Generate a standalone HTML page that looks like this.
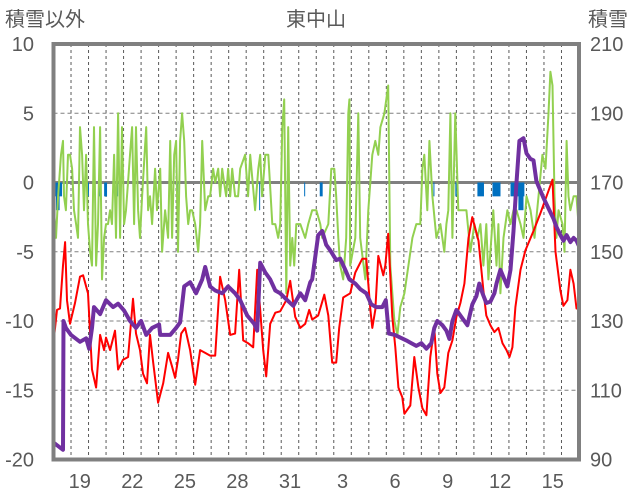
<!DOCTYPE html>
<html><head><meta charset="utf-8"><style>
html,body{margin:0;padding:0;background:#fff;}
svg{display:block;font-family:"Liberation Sans","Noto Sans CJK JP",sans-serif;}
</style></head><body>
<svg id="chart" width="636" height="501" viewBox="0 0 636 501" xmlns="http://www.w3.org/2000/svg">
<rect x="0" y="0" width="636" height="501" fill="#fff"/>
<text x="316" y="26" text-anchor="middle" font-size="20" fill="#595959">東中山</text>
<text x="5" y="26" font-size="20" fill="#595959">積雪以外</text>
<text x="588" y="26" font-size="20" fill="#595959">積雪</text>
<g id="grid"></g><g id="bars"></g><g id="series"></g><g id="axes"></g>
</svg>
<script>
const xLabels=["19","22","25","28","31","3","6","9","12","15"];
const xLabelDays=[1,4,7,10,13,16,19,22,25,28];
const leftTicks=[10,5,0,-5,-10,-15,-20];
const rightTicks=[210,190,170,150,130,110,90];
const greenDays=[0.03,0.14,0.26,0.43,0.54,0.6,0.71,0.83,0.94,1.06,1.17,1.29,1.4,1.51,1.63,1.74,1.86,1.97,2.09,2.2,2.31,2.43,2.54,2.66,2.77,2.89,3.0,3.11,3.23,3.34,3.46,3.57,3.69,3.8,3.91,4.03,4.14,4.37,4.49,4.6,4.71,4.83,4.94,5.06,5.29,5.4,5.51,5.63,5.8,5.91,6.09,6.2,6.37,6.54,6.66,6.77,6.89,7.0,7.11,7.23,7.34,7.46,7.57,7.69,7.8,7.91,8.09,8.26,8.37,8.49,8.66,8.83,8.94,9.11,9.23,9.4,9.51,9.63,9.74,9.86,9.97,10.09,10.2,10.37,10.54,10.66,10.94,11.11,11.23,11.51,11.69,11.8,11.91,12.09,12.26,12.49,12.66,12.83,12.94,13.06,13.17,13.29,13.4,13.51,13.63,13.74,13.86,14.09,14.37,14.54,14.77,15.0,15.23,15.34,15.69,15.86,16.03,16.14,16.26,16.37,16.54,16.71,16.83,16.89,16.94,17.23,17.4,17.51,17.8,17.97,18.2,18.37,18.54,18.66,18.89,19.11,19.23,19.46,19.63,19.8,20.03,20.26,20.49,20.71,20.94,21.06,21.17,21.34,21.46,21.63,21.86,22.09,22.31,22.43,22.54,22.66,22.77,22.94,23.11,23.34,23.57,23.8,24.03,24.2,24.37,24.54,24.71,24.83,24.94,25.11,25.29,25.4,25.51,25.69,25.91,26.09,26.26,26.43,26.66,26.83,27.0,27.23,27.46,27.69,27.91,28.09,28.26,28.37,28.49,28.6,28.71,28.83,29.06,29.17,29.29,29.4,29.51,29.69,29.86,29.97];
const greenVals=[-2,-4,-1,2,3,-1,-2,2,2,1,-2,-3,-4,4,2,-2,2,-3,-5,-6,4,-6,-3,4,-7,-4,-3,-3,-2,-3,2,-4,5,-4,4,-3,-2,2,4,-3,4,-2,-4,-1,4,-2,-1,-3,1,-2,1,-5,-2,-4,3,-4,2,3,-5,3,5,3,-1,-3,-2,-2,-3,-5,-3,3,-2,-1,-1,1,0,1,-1,1,0,-1,1,-1,1,-1,-1,1,2,-1,2,-2,1,2,-1,2,2,-3,-3,-4,-3,4,6,-8,4,-6,-4,-6,-3,-3,-4,-3,-2,-2,-3,-4,-3,1,1,-1,-4,-6,-7,-4,5,6,-6,-4,5,-4,-7,-2,2,3,2,4,5,7,-6,-10,-11,-9,-8,-6,-4,-3,-3,1,2,-2,3,-1,-4,-3,-5,-3,-2,5,-4,5,-2,-2,-2,-5,-3,-4,-3,-6,-3,-7,-5,-2,-6,-3,-8,-4,-2,-3,-2,-2,-3,-4,-1,-2,-4,-1,2,1,5,8,7,-1,-4,-2,-3,-5,3,-1,-2,-1,-1,-3];
const redDays=[0.03,0.2,0.37,0.54,0.66,0.77,0.94,1.23,1.51,1.69,1.97,2.2,2.43,2.66,2.89,3.0,3.23,3.51,3.69,3.97,4.26,4.54,4.71,4.94,5.11,5.34,5.51,5.69,5.97,6.26,6.54,6.77,6.94,7.11,7.29,7.51,7.8,8.09,8.37,8.66,8.94,9.23,9.51,9.8,10.09,10.37,10.6,10.83,11.11,11.4,11.63,11.97,12.14,12.37,12.66,12.94,13.29,13.51,13.8,14.09,14.37,14.6,14.77,15.11,15.46,15.69,15.91,16.14,16.31,16.54,16.94,17.23,17.63,17.86,18.09,18.2,18.37,18.54,18.83,18.94,19.11,19.34,19.51,19.69,19.91,20.03,20.37,20.6,20.83,21.06,21.29,21.51,21.74,21.91,22.09,22.31,22.54,22.77,23.0,23.23,23.46,23.69,23.91,24.26,24.54,24.71,24.94,25.17,25.4,25.63,25.86,26.03,26.2,26.37,26.66,26.94,27.4,27.8,28.26,28.49,28.66,28.94,29.11,29.34,29.51,29.69,29.86,30.0];
const redVals=[-11.2,-9.2,-9.1,-6,-4.3,-8.5,-10.2,-8.7,-6.8,-6.7,-8,-13.5,-14.8,-11,-12.1,-11.2,-12.1,-10.7,-13.5,-12.8,-12.6,-8.4,-10.9,-12.1,-13.8,-14.5,-11,-13,-15.9,-14.5,-12.3,-13.3,-14.1,-12.8,-10.9,-10.5,-12.1,-14.6,-12.1,-12.3,-12.5,-12.5,-6.8,-8.5,-11,-10.9,-6.3,-11.4,-11.6,-11.9,-6.3,-12.1,-14,-10.2,-9.4,-9.3,-8.5,-7.1,-9.7,-10.5,-10.2,-9.2,-9.9,-9.6,-8.1,-9.6,-13,-13,-10.5,-8.3,-8,-6.5,-5.5,-5.5,-9.2,-10.5,-9.2,-5.3,-6.7,-6,-3.7,-9.7,-11.9,-14.8,-15.5,-16.7,-16.1,-12.6,-14.8,-16.3,-16.8,-12.6,-10.5,-13.8,-15.2,-14.8,-12.3,-11.4,-9.7,-8.7,-7.3,-4,-2.5,-4.2,-7.8,-9.6,-10.3,-10.8,-10.5,-11.6,-12.1,-12.6,-11.9,-9,-6.3,-4.9,-3.5,-2.2,-0.6,0.2,-5,-7.8,-8.9,-8.5,-6.3,-7.3,-9.1,-9.1];
const snowDays=[0.03,0.54,0.57,0.71,1.0,1.51,1.86,2.03,2.2,2.31,2.66,3.0,3.4,3.69,4.03,4.37,4.71,5.0,5.29,5.63,6.03,6.09,6.66,7.0,7.23,7.46,7.8,8.14,8.49,8.66,8.94,9.23,9.63,9.97,10.37,10.66,11.06,11.46,11.63,11.8,12.09,12.37,12.66,12.94,13.34,13.69,14.09,14.37,14.66,14.77,15.11,15.34,15.57,15.8,16.14,16.37,16.66,16.89,17.23,17.51,17.86,18.14,18.43,18.77,18.97,19.14,19.49,19.8,20.14,20.43,20.71,21.0,21.29,21.57,21.74,21.91,22.2,22.43,22.6,22.77,23.0,23.34,23.63,23.91,24.14,24.31,24.49,24.71,24.94,25.17,25.29,25.51,25.74,25.91,26.09,26.26,26.43,26.6,26.83,27.0,27.23,27.4,27.57,27.8,27.97,28.31,28.54,28.71,28.94,29.11,29.29,29.51,29.69,29.86,30.0];
const snowVals=[94.8,92.8,130,128,126,124,125,122,128,134,132,136,134,135,133,130,128,130,126,128,129,126,126,128,129.6,140,141.2,138,142,145.6,140,138.8,138,140,138,136,131.6,129.2,127.2,146.8,144,142,138.8,138,136,134.4,138,136,141.2,142,154.8,156,152,150.4,147.6,148,144.8,142,140.8,139.2,138,134.8,134,134,136,126.4,126,125.2,124.4,123.6,122.8,123.6,122,123.6,128,130,128.8,127.2,124.8,130,133.2,130.8,128.8,134.8,137.2,140.8,138,135.2,135.6,138,140.8,144.8,142,140,144.8,156,170,182,182.8,178.4,176.8,176.4,170.4,167.6,165.6,162,159.6,157.2,154.8,153.2,154.8,152.8,154,153.2,151.6];
const snowfallStart=[0.03,0.14,1.97,2.6,2.89,3.63,7.06,10.03,11.74,14.31,15.2,21.69,22.94,24.2,25.06,26.09,26.54];
const snowfallHours=[11,5,1,1,4,1,1,1,1,1,4,1,2,9,11,19,7];
const snowfallVals=[-1,-2,-1,-1,-1,-1,-1,-1,-2,-1,-1,-1,-1,-1,-1,-1,-2];

const NS="http://www.w3.org/2000/svg";
const L=53.5,R=579,T=44,B=459.5,DAYS=30;
const x=d=>L+(R-L)*d/DAYS;
const yL=v=>T+(10-v)*(B-T)/30;
const yR=v=>T+(210-v)*(B-T)/120;
function mk(tag,attrs,parent){const e=document.createElementNS(NS,tag);for(const k in attrs)e.setAttribute(k,attrs[k]);parent.appendChild(e);return e;}
const grid=document.getElementById('grid'),bars=document.getElementById('bars'),series=document.getElementById('series'),axes=document.getElementById('axes');
for(let d=1;d<DAYS;d++){
  const l=mk('line',{x1:x(d),x2:x(d),y1:T,y2:B,stroke:'#595959','stroke-width':1,'stroke-dasharray':'3,3'},grid);
  
  
}
leftTicks.forEach((v,i)=>{
  if(v!==0&&v!==10&&v!==-20){
    const g=mk('line',{x1:L,x2:R,y1:yL(v),y2:yL(v),stroke:'#808080','stroke-width':1,'stroke-dasharray':'4,3'},grid);
    
    
  }
  const t=mk('text',{x:34,y:yL(v)+7,'text-anchor':'end','font-size':20,fill:'#595959'},axes);
  t.textContent=v;
  
  
});
rightTicks.forEach(v=>{
  const t=mk('text',{x:590,y:yR(v)+7,'font-size':20,fill:'#595959'},axes);
  t.textContent=v;
  
  
});
xLabels.forEach((s,i)=>{
  const t=mk('text',{x:x(xLabelDays[i]+0.5),y:488,'text-anchor':'middle','font-size':20,fill:'#595959'},axes);
  t.textContent=s;
  
  
});
snowfallStart.forEach((d,i)=>{
  const w=Math.max(1,(x(d+snowfallHours[i]/24)-x(d)));
  const r=mk('rect',{x:x(d),y:yL(0),width:w,height:yL(snowfallVals[i])-yL(0),fill:'#0070c0'},bars);
  
  
});
const z=mk('line',{x1:L,x2:R,y1:yL(0),y2:yL(0),stroke:'#808080','stroke-width':3},grid);


function path(days,vals,fy){return days.map((d,i)=>(i?'L':'M')+x(d).toFixed(1)+','+fy(vals[i]).toFixed(1)).join(' ');}
const pg=mk('path',{d:path(greenDays,greenVals,yL),fill:'none',stroke:'#92d050','stroke-width':2,'stroke-linejoin':'round'},series);


const pr=mk('path',{d:path(redDays,redVals,yL),fill:'none',stroke:'#ff0000','stroke-width':2,'stroke-linejoin':'round'},series);


const pp=mk('path',{d:path(snowDays,snowVals,yR),fill:'none',stroke:'#7030a0','stroke-width':4,'stroke-linejoin':'round'},series);


const f=mk('rect',{x:L,y:T,width:R-L,height:B-T,fill:'none',stroke:'#808080','stroke-width':4},axes);


</script>
</body></html>
